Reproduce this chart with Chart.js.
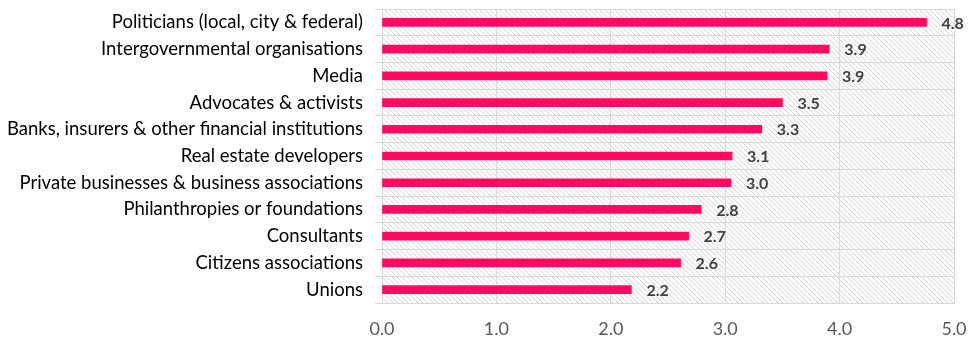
<!DOCTYPE html>
<html>
<head>
<meta charset="utf-8">
<script src="https://cdn.jsdelivr.net/npm/chart.js@4"></script>
<style>
html,body{margin:0;padding:0;background:#fff;}
#wrap{width:971px;height:337px;position:relative;}
</style>
</head>
<body>
<div id="wrap"><canvas id="c" width="971" height="337"></canvas></div>
<script>
const categories = [
  "Politicians (local, city & federal)",
  "Intergovernmental organisations",
  "Media",
  "Advocates & activists",
  "Banks, insurers & other financial institutions",
  "Real estate developers",
  "Private businesses & business associations",
  "Philanthropies or foundations",
  "Consultants",
  "Citizens associations",
  "Unions"
];
const values = [4.76, 3.91, 3.89, 3.50, 3.32, 3.06, 3.05, 2.79, 2.68, 2.61, 2.18];
const valueLabels = ["4.8","3.9","3.9","3.5","3.3","3.1","3.0","2.8","2.7","2.6","2.2"];
const xTicks = [0, 1, 2, 3, 4, 5];

function makePattern(){
  const s = 5;
  const p = document.createElement('canvas');
  p.width = s; p.height = s;
  const g = p.getContext('2d');
  g.fillStyle = '#ffffff';
  g.fillRect(0,0,s,s);
  g.strokeStyle = '#d6d6d6';
  g.lineWidth = 1;
  g.beginPath();
  g.moveTo(-1,-1); g.lineTo(s+1,s+1);
  g.moveTo(-1,s-1); g.lineTo(1,s+1);
  g.moveTo(s-1,-1); g.lineTo(s+1,1);
  g.stroke();
  return document.getElementById('c').getContext('2d').createPattern(p,'repeat');
}

const hatchBg = {
  id: 'hatchBg',
  beforeDraw(chart){
    const {ctx, chartArea:a} = chart;
    ctx.save();
    ctx.fillStyle = makePattern();
    ctx.fillRect(a.left, a.top, a.right - a.left, a.bottom - a.top);
    ctx.restore();
  }
};

const valueLabelPlugin = {
  id: 'valueLabels',
  afterDatasetsDraw(chart){
    const ctx = chart.ctx;
    const meta = chart.getDatasetMeta(0);
    ctx.save();
    ctx.font = 'bold 16px Lato';
    ctx.fillStyle = '#404040';
    ctx.textAlign = 'left';
    ctx.textBaseline = 'middle';
    meta.data.forEach((el, i) => {
      ctx.fillText(valueLabels[i], el.x + 15, el.y + 1);
    });
    ctx.restore();
  }
};

new Chart(document.getElementById('c'), {
  type: 'bar',
  data: {
    labels: categories,
    datasets: [{
      data: values,
      backgroundColor: '#FF0A62',
      barThickness: 8,
      borderWidth: 0
    }]
  },
  options: {
    indexAxis: 'y',
    responsive: false,
    animation: false,
    devicePixelRatio: 1,
    layout: { padding: { top: 9, right: 17, left: 0, bottom: 0 } },
    plugins: { legend: { display: false }, tooltip: { enabled: false } },
    scales: {
      x: {
        min: 0, max: 5,
        afterBuildTicks(s){ s.ticks = xTicks.map(v => ({value: v})); },
        ticks: {
          callback: v => Number(v).toFixed(1),
          color: '#595959',
          font: { family: 'Lato', size: 18 },
          padding: 15
        },
        grid: { color: '#d9d9d9', lineWidth: 1, drawTicks: false },
        border: { color: '#d9d9d9' },
        afterFit(s){ s.height = 34; s.paddingLeft = 0; s.paddingRight = 0; }
      },
      y: {
        ticks: {
          color: '#000000',
          font: { family: 'Lato', size: 18.5 },
          padding: 12,
          autoSkip: false
        },
        grid: { color: '#d9d9d9', lineWidth: 1, tickLength: 7, offset: true },
        border: { color: '#d9d9d9' },
        afterFit(s){ s.width = 382; s.paddingTop = 0; s.paddingBottom = 0; }
      }
    }
  },
  plugins: [hatchBg, valueLabelPlugin]
});
</script>
</body>
</html>
